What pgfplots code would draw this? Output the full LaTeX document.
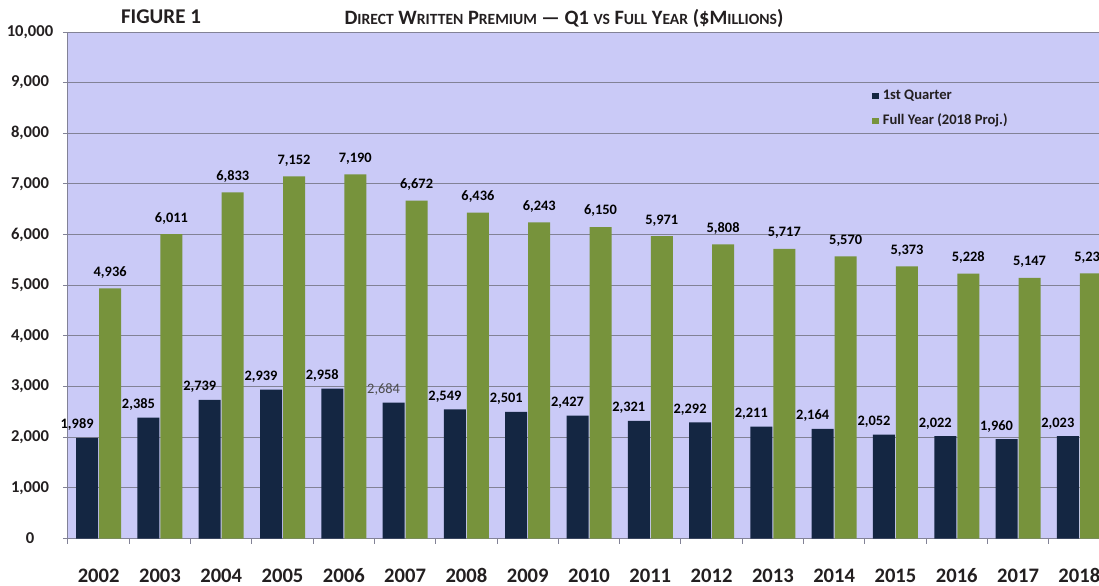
\documentclass[border=0pt]{standalone}
\usepackage{pgfplots}
\pgfplotsset{compat=1.18}
\usepackage{fontspec}
\setmainfont{Carlito}
\definecolor{bgl}{RGB}{202,202,247}
\definecolor{navy}{RGB}{20,38,66}
\definecolor{olive}{RGB}{119,147,60}
\definecolor{gridc}{RGB}{130,130,150}
\definecolor{txt}{RGB}{35,31,32}
\newcommand{\sm}[1]{{\fontsize{7.8}{9}\selectfont #1}}
\begin{document}
\begin{tikzpicture}
\path[use as bounding box] (0,0) rectangle (549.5pt,292.5pt);
\clip (0,0) rectangle (549.5pt,292.5pt);
\begin{axis}[
  at={(34pt,23.25pt)}, anchor=south west,
  scale only axis, width=521pt, height=253.25pt,
  xmin=-0.5, xmax=16.5, ymin=0, ymax=10000,
  ybar=0.5pt, bar width=11pt,
  axis background/.style={fill=bgl},
  axis x line*=bottom, axis y line*=left,
  axis line style={draw=gridc, line width=0.5pt},
  ymajorgrids, grid style={draw=gridc, line width=0.5pt},
  ytick={0,1000,...,10000},
  scaled y ticks=false,
  xtick={-0.5,0.5,...,16.5},
  x tick label as interval,
  xticklabels={2002,2003,2004,2005,2006,2007,2008,2009,2010,2011,2012,2013,2014,2015,2016,2017,2018},
  tick align=outside, major tick length=2.5pt,
  tick style={draw=gridc, line width=0.5pt},
  /pgf/number format/assume math mode=true,
  /pgf/number format/1000 sep={,},
  yticklabel style={font=\fontsize{8.3}{10}\selectfont\bfseries, text=txt, anchor=center, xshift=-16.5pt},
  xticklabel style={font=\fontsize{10.3}{12}\selectfont\bfseries, text=txt, anchor=center, yshift=-16pt},
  nodes near coords,
  every node near coord/.append style={font=\fontsize{7.2}{8}\selectfont\bfseries, text=black},
  legend style={draw=none, fill=none, at={(0.7716,0.8953)}, anchor=north west,
    font=\fontsize{7.3}{8}\selectfont\bfseries, text=txt, row sep=2pt, inner sep=0pt},
  legend cell align=left,
  legend image code/.code={\fill[#1,draw=none] (0pt,-1.6pt) rectangle (3.2pt,1.6pt);},
]
\addplot[fill=navy, draw=none,
  visualization depends on={rawx \as \myrawx},
  nodes near coords={\ifdim\myrawx pt=5pt\relax\mdseries\color{black!70}\fi\pgfmathprintnumber{\pgfplotspointmeta}},
  every node near coord/.append style={xshift=-5pt}]
  coordinates {(0,1989) (1,2385) (2,2739) (3,2939) (4,2958) (5,2684) (6,2549) (7,2501) (8,2427) (9,2321) (10,2292) (11,2211) (12,2164) (13,2052) (14,2022) (15,1960) (16,2023)};
\addplot[fill=olive, draw=none,
  every node near coord/.append style={yshift=1.5pt}]
  coordinates {(0,4936) (1,6011) (2,6833) (3,7152) (4,7190) (5,6672) (6,6436) (7,6243) (8,6150) (9,5971) (10,5808) (11,5717) (12,5570) (13,5373) (14,5228) (15,5147) (16,5234)};
\legend{1st Quarter, Full Year (2018 Proj.)}
\end{axis}
\node[font=\fontsize{10.5}{12}\selectfont\bfseries, text=txt] at (80.5pt,284pt) {FIGURE 1};
\node[font=\fontsize{10.2}{12}\selectfont\bfseries, text=txt] at (282pt,283.5pt)
  {D\sm{IRECT} W\sm{RITTEN} P\sm{REMIUM} — Q1 \sm{VS} F\sm{ULL} Y\sm{EAR} (\$M\sm{ILLIONS})};
\end{tikzpicture}
\end{document}
